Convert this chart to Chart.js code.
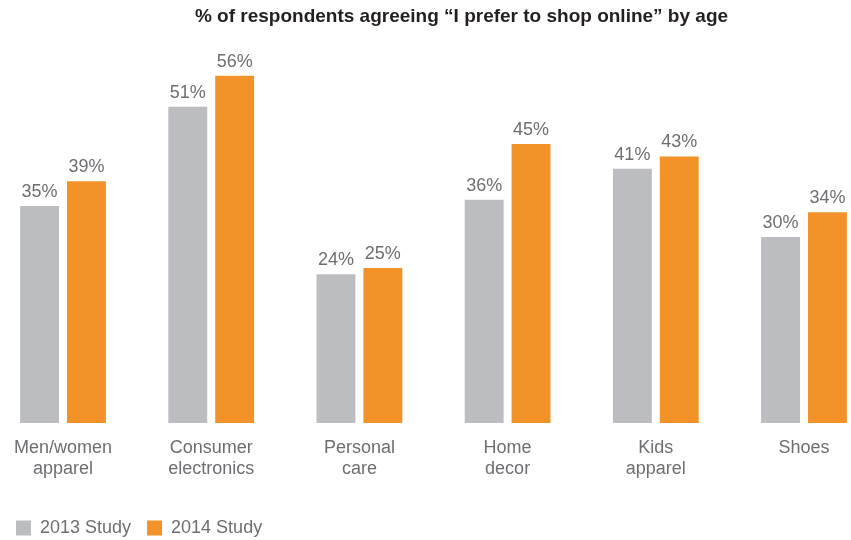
<!DOCTYPE html>
<html>
<head>
<meta charset="utf-8">
<script src="https://cdn.jsdelivr.net/npm/chart.js@4/dist/chart.umd.min.js"></script>
<style>
    html, body { margin: 0; padding: 0; background: #fff; }
    #wrap { width: 851px; height: 540px; }
</style>
</head>
<body>
<div id="wrap"><canvas id="myChart" width="851" height="540"></canvas></div>
<script>
const categories = [
    ["Men/women", "apparel"],
    ["Consumer", "electronics"],
    ["Personal", "care"],
    ["Home", "decor"],
    ["Kids", "apparel"],
    ["Shoes"]
];
const study2013 = [35, 51, 24, 36, 41, 30];
const study2014 = [39, 56, 25, 45, 43, 34];

const GRAY = "#bcbdc1";
const ORANGE = "#f29229";
const TEXT = "#6d6e71";
const FONT = "'Liberation Sans', Arial, Helvetica, sans-serif";

// percent label above every bar
const valueLabels = {
    id: "valueLabels",
    afterDatasetsDraw(chart) {
        const ctx = chart.ctx;
        ctx.save();
        ctx.font = "18px " + FONT;
        ctx.fillStyle = TEXT;
        ctx.textAlign = "center";
        ctx.textBaseline = "alphabetic";
        chart.data.datasets.forEach((ds, di) => {
            chart.getDatasetMeta(di).data.forEach((bar, i) => {
                ctx.fillText(ds.data[i] + "%", bar.x, bar.y - 9);
            });
        });
        ctx.restore();
    }
};

// title sits a bit right of the page centre
const titleShift = {
    id: "titleShift",
    afterLayout(chart) {
        const t = chart.titleBlock;
        if (!t) return;
        t.left = 72;
        t.right = chart.width;
    }
};

const ctx = document.getElementById("myChart").getContext("2d");
const myChart = new Chart(ctx, {
    type: "bar",
    data: {
        labels: categories,
        datasets: [
            { label: "2013 Study", data: study2013, backgroundColor: GRAY, clip: false },
            { label: "2014 Study", data: study2014, backgroundColor: ORANGE, clip: false }
        ]
    },
    options: {
        responsive: false,
        animation: false,
        categoryPercentage: 0.6326,
        barPercentage: 0.83,
        layout: { padding: { left: 0, right: 47, top: 0, bottom: -7 } },
        plugins: {
            title: {
                display: true,
                text: "% of respondents agreeing \u201cI prefer to shop online\u201d by age",
                color: "#231f20",
                font: { family: FONT, size: 19, weight: "bold" },
                padding: { top: 5.6, bottom: 22.6 }
            },
            legend: {
                position: "bottom",
                align: "start",
                labels: {
                    color: TEXT,
                    font: { family: FONT, size: 18 },
                    boxWidth: 15,
                    boxHeight: 15,
                    padding: 16
                }
            },
            tooltip: { enabled: false }
        },
        scales: {
            x: {
                offset: false,
                grid: { display: false, drawTicks: false },
                border: { display: false },
                ticks: {
                    color: TEXT,
                    font: { family: FONT, size: 18 },
                    padding: 14,
                    maxRotation: 0,
                    autoSkip: false
                },
                // keep the legend row well below the two-line labels
                afterFit: (scale) => { scale.height = 80; }
            },
            y: {
                min: 0,
                max: 60,
                grid: { display: false, drawTicks: false },
                border: { display: false },
                ticks: { display: false },
                // invisible axis that reserves room left of the first group
                afterFit: (scale) => { scale.width = 59; }
            }
        }
    },
    plugins: [valueLabels, titleShift]
});
</script>
</body>
</html>
